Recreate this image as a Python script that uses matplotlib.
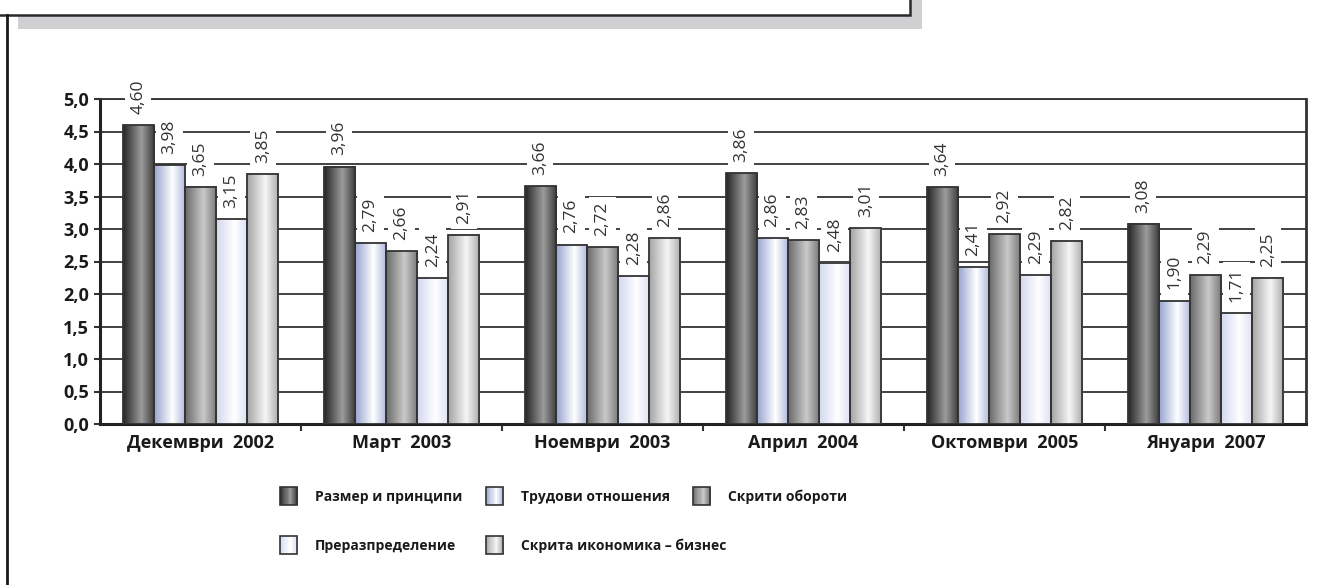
import matplotlib.pyplot as plt
import numpy as np
from matplotlib.colors import LinearSegmentedColormap
from matplotlib.patches import Rectangle, Patch
from matplotlib.legend_handler import HandlerBase
from matplotlib.lines import Line2D

# data
periods = ["Декември  2002", "Март  2003", "Ноември  2003",
           "Април  2004", "Октомври  2005", "Януари  2007"]
series_names = ["Размер и принципи", "Трудови отношения", "Скрити обороти",
                "Преразпределение", "Скрита икономика – бизнес"]
razmer = [4.60, 3.96, 3.66, 3.86, 3.64, 3.08]
trudovi = [3.98, 2.79, 2.76, 2.86, 2.41, 1.90]
skriti_oboroti = [3.65, 2.66, 2.72, 2.83, 2.92, 2.29]
preraz = [3.15, 2.24, 2.28, 2.48, 2.29, 1.71]
biznes = [3.85, 2.91, 2.86, 3.01, 2.82, 2.25]
all_series = [razmer, trudovi, skriti_oboroti, preraz, biznes]

# horizontal gradients for each series (left, highlight, right)
grad_stops = [
    ["#262626", "#9c9c9c", "#3a3a3a"],
    ["#98a4d0", "#ffffff", "#aeb7dc"],
    ["#6a6a6a", "#cacaca", "#787878"],
    ["#d2d8ef", "#ffffff", "#dce0f2"],
    ["#a4a4a4", "#f6f6f6", "#acacac"],
]
cmaps = [LinearSegmentedColormap.from_list(f"g{i}", [(0, s[0]), (0.58, s[1]), (1, s[2])])
         for i, s in enumerate(grad_stops)]

W, H = 1335, 585
fig = plt.figure(figsize=(W / 100, H / 100), dpi=100)
ax = fig.add_axes([100 / W, 1 - 424 / H, 1206 / W, 325 / H])

def fx(px):
    return px / W

def fy(py):
    return 1 - py / H

edge = "#333333"

x = np.arange(len(periods))
bw = 0.155
grad = np.linspace(0, 1, 64).reshape(1, -1)

for i, vals in enumerate(all_series):
    offs = (i - 2) * bw
    bars = ax.bar(x + offs, vals, bw, facecolor="none", edgecolor=edge, linewidth=1.3, zorder=4)
    for b, v in zip(bars, vals):
        x0 = b.get_x()
        ax.imshow(grad, cmap=cmaps[i], extent=[x0, x0 + b.get_width(), 0, b.get_height()],
                  aspect="auto", zorder=3, interpolation="bilinear")
        ax.annotate(f"{v:.2f}".replace(".", ","), (x0 + b.get_width() / 2, v),
                    xytext=(0, 8), textcoords="offset points", rotation=90,
                    ha="center", va="bottom", fontsize=12.5, family="Open Sans",
                    color="#333333", zorder=5,
                    bbox=dict(boxstyle="square,pad=0.3", fc="white", ec="none"))

ax.set_xlim(-0.5, len(periods) - 0.5)
ax.set_ylim(0, 5)
ax.set_yticks(np.arange(0, 5.01, 0.5))
ax.set_yticklabels([f"{t:.1f}".replace(".", ",") for t in np.arange(0, 5.01, 0.5)])
ax.yaxis.grid(True, color="#333333", linewidth=1.3, zorder=1)
ax.set_axisbelow(True)
ax.set_xticks(x)
ax.set_xticklabels(periods)
ax.set_xticks(np.arange(0.5, len(periods) - 0.5, 1), minor=True)
ax.tick_params(axis="x", which="major", length=0, pad=7)
ax.tick_params(axis="x", which="minor", length=5, width=1.5, color=edge, direction="out")
ax.tick_params(axis="y", length=4, width=1.5, color=edge, pad=4)
for lab in ax.get_xticklabels() + ax.get_yticklabels():
    lab.set_fontproperties(dict(family="Open Sans", weight="bold", size=13))
    lab.set_color("#1a1a1a")
for side in ["left", "bottom"]:
    ax.spines[side].set_linewidth(2.2)
    ax.spines[side].set_color("#222222")
ax.spines["right"].set_linewidth(2)
ax.spines["right"].set_color("#333333")
ax.spines["top"].set_linewidth(1.3)
ax.spines["top"].set_color("#333333")


class GradHandler(HandlerBase):
    def create_artists(self, legend, orig, xd, yd, w, h, fontsize, trans):
        cm = orig.cmap
        n = 16
        arts = []
        for k in range(n):
            arts.append(Rectangle((-xd + w * k / n, -yd), w / n + 0.1, h,
                                  facecolor=cm((k + 0.5) / n), edgecolor="none", transform=trans))
        arts.append(Rectangle((-xd, -yd), w, h, facecolor="none", edgecolor=edge,
                              linewidth=1.2, transform=trans))
        return arts


# manual legend placement: two rows, three slots
slots = [(280, 496), (486, 496), (693, 496), (280, 545), (486, 545)]
for i, name in enumerate(series_names):
    h = Patch(label=name)
    h.cmap = cmaps[i]
    leg = fig.legend([h], [name], loc="center left",
                     bbox_to_anchor=(fx(slots[i][0]), fy(slots[i][1])),
                     frameon=False, borderpad=0, borderaxespad=0,
                     handlelength=1.25, handleheight=1.65, handletextpad=1.25,
                     handler_map={Patch: GradHandler()},
                     prop=dict(family="Open Sans", weight="bold", size=10))
    for t in leg.get_texts():
        t.set_color("#1a1a1a")

# header frame above the chart
fig.add_artist(Rectangle((fx(18), fy(29)), fx(922) - fx(18), fy(-10) - fy(29),
                         transform=fig.transFigure, facecolor="#d0d0d2", edgecolor="none", zorder=0))
fig.add_artist(Rectangle((fx(-5), fy(15)), fx(910) - fx(-5), fy(-10) - fy(15),
                         transform=fig.transFigure, facecolor="white", edgecolor="#2a2a2a",
                         linewidth=1.8, zorder=1))
fig.add_artist(Line2D([fx(7), fx(7)], [fy(15), fy(590)], transform=fig.transFigure,
                      color="#1a1a1a", linewidth=2))

fig.savefig("out.png", dpi=100)
